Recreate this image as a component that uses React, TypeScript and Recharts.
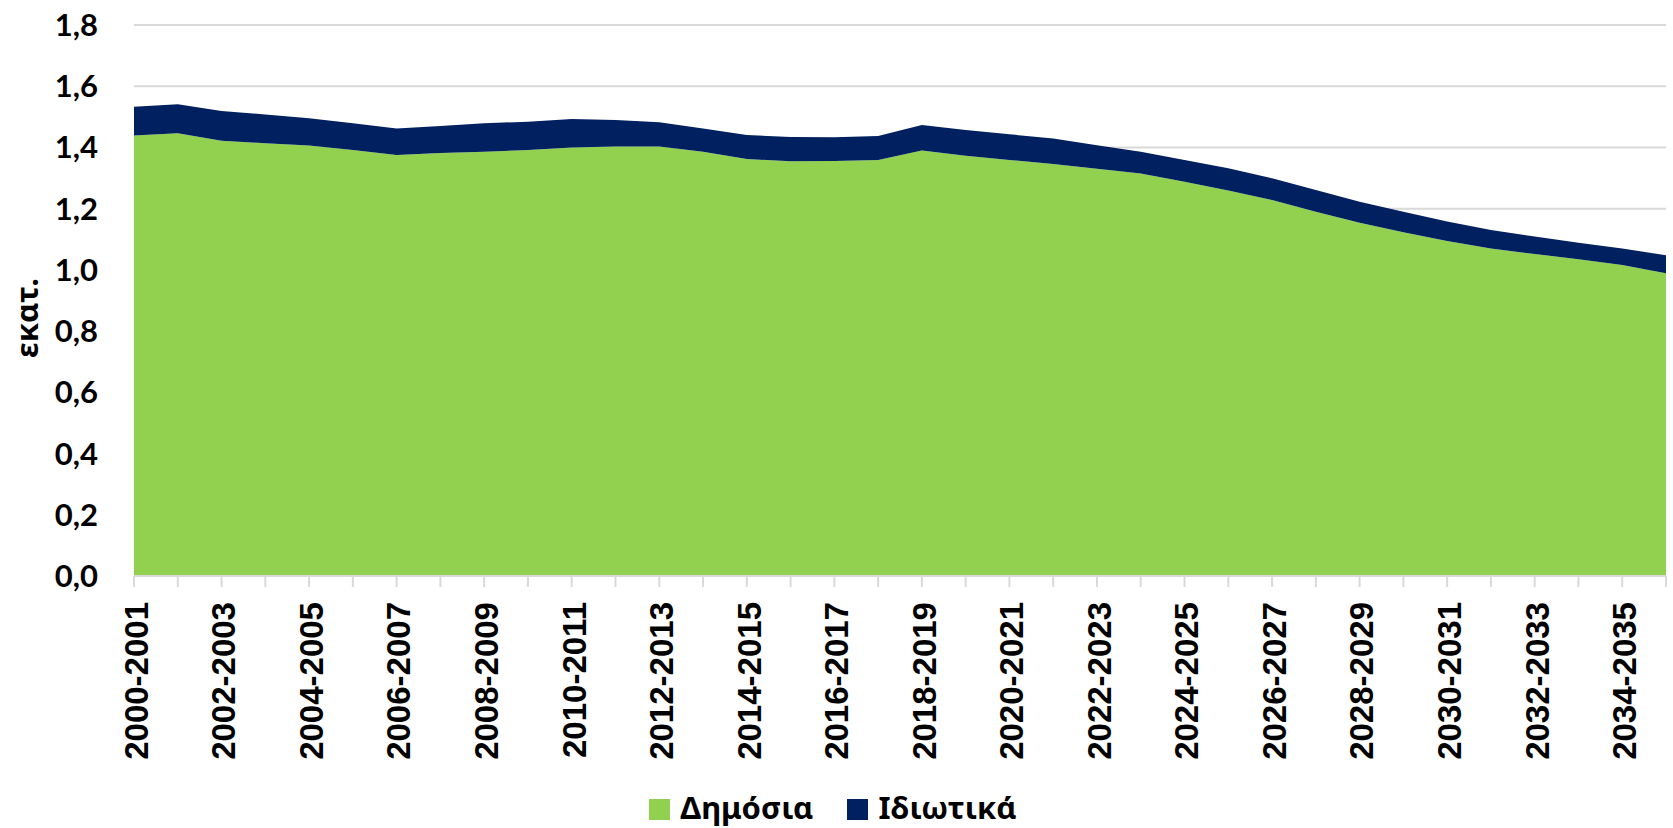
import React from 'react';
import { AreaChart, Area, XAxis, YAxis, CartesianGrid, Legend } from 'recharts';

const categories: string[] = [
  '2000-2001', '2001-2002', '2002-2003', '2003-2004', '2004-2005', '2005-2006',
  '2006-2007', '2007-2008', '2008-2009', '2009-2010', '2010-2011', '2011-2012',
  '2012-2013', '2013-2014', '2014-2015', '2015-2016', '2016-2017', '2017-2018',
  '2018-2019', '2019-2020', '2020-2021', '2021-2022', '2022-2023', '2023-2024',
  '2024-2025', '2025-2026', '2026-2027', '2027-2028', '2028-2029', '2029-2030',
  '2030-2031', '2031-2032', '2032-2033', '2033-2034', '2034-2035', '2035-2036',
];

const publicValues: number[] = [
  1.439, 1.446, 1.422, 1.414, 1.406, 1.392, 1.375, 1.382, 1.386, 1.392,
  1.400, 1.403, 1.403, 1.386, 1.362, 1.355, 1.356, 1.359, 1.390, 1.373,
  1.359, 1.346, 1.330, 1.315, 1.288, 1.259, 1.228, 1.190, 1.154, 1.123,
  1.094, 1.070, 1.052, 1.035, 1.016, 0.989,
];

const privateValues: number[] = [
  0.094, 0.095, 0.097, 0.094, 0.089, 0.087, 0.087, 0.088, 0.093, 0.092,
  0.093, 0.087, 0.079, 0.076, 0.079, 0.079, 0.077, 0.078, 0.083, 0.084,
  0.084, 0.083, 0.077, 0.071, 0.071, 0.073, 0.071, 0.071, 0.069, 0.067,
  0.064, 0.060, 0.057, 0.054, 0.054, 0.059,
];

const yTicks: number[] = [0, 0.2, 0.4, 0.6, 0.8, 1.0, 1.2, 1.4, 1.6, 1.8];

const publicName = 'Δημόσια';
const privateName = 'Ιδιωτικά';
const yTitle = 'εκατ.';

const GREEN = '#92D050';
const NAVY = '#002060';
const GRID = '#D9D9D9';

const data = categories.map((period, i) => ({
  period,
  publicV: publicValues[i],
  privateV: privateValues[i],
}));

const XTick = (props: any) => {
  const { x, y, payload } = props;
  const idx = categories.indexOf(payload.value);
  if (idx % 2 !== 0) return <g />;
  return (
    <text
      x={x}
      y={y}
      transform={`rotate(-90, ${x}, ${y})`}
      textAnchor="end"
      dy="0.42em"
      fill="#000"
      fontSize={33}
      fontWeight={700}
      fontFamily="'Liberation Sans', Arial, sans-serif"
    >
      {payload.value}
    </text>
  );
};

const LegendContent = () => {
  const item = (color: string, label: string, gap: number) => (
    <div style={{ display: 'flex', alignItems: 'center', marginRight: gap }}>
      <div style={{ width: 21, height: 21, background: color, marginRight: 10, marginTop: 4 }} />
      <span
        style={{
          fontFamily: "'Noto Sans', sans-serif",
          fontWeight: 700,
          fontSize: 31,
          lineHeight: 'normal',
          color: '#000',
          whiteSpace: 'nowrap',
        }}
      >
        {label}
      </span>
    </div>
  );
  return (
    <div
      style={{
        height: 52,
        boxSizing: 'border-box',
        paddingTop: 10,
        display: 'flex',
        justifyContent: 'center',
        alignItems: 'flex-start',
      }}
    >
      {item(GREEN, publicName, 34)}
      {item(NAVY, privateName, 0)}
    </div>
  );
};

export default function App() {
  return (
    <div style={{ position: 'absolute', left: 0, top: 0, width: 1673, height: 828, background: '#fff' }}>
      <AreaChart
        width={1673}
        height={828}
        data={data}
        margin={{ top: 25, right: 7, bottom: 0, left: 0 }}
      >
        <CartesianGrid vertical={false} stroke={GRID} strokeWidth={2} />
        <XAxis
          dataKey="period"
          interval={0}
          tick={<XTick />}
          tickSize={11}
          tickMargin={15}
          height={200}
          axisLine={{ stroke: GRID, strokeWidth: 2 }}
          tickLine={{ stroke: GRID, strokeWidth: 2 }}
        />
        <YAxis
          domain={[0, 1.8]}
          ticks={yTicks}
          width={134}
          axisLine={false}
          tickLine={false}
          tickMargin={30}
          tickFormatter={(v: number) => v.toFixed(1).replace('.', ',')}
          tick={{ fill: '#000', fontSize: 31, fontWeight: 700, fontFamily: "Lato, 'Noto Sans', sans-serif" }}
        />
        <Legend verticalAlign="bottom" content={<LegendContent />} />
        <Area
          type="linear"
          dataKey="publicV"
          name={publicName}
          stackId="a"
          stroke="none"
          fill={GREEN}
          fillOpacity={1}
          isAnimationActive={false}
        />
        <Area
          type="linear"
          dataKey="privateV"
          name={privateName}
          stackId="a"
          stroke="none"
          fill={NAVY}
          fillOpacity={1}
          isAnimationActive={false}
        />
      </AreaChart>
      <svg
        width={60}
        height={200}
        style={{ position: 'absolute', left: 0, top: 218, pointerEvents: 'none' }}
      >
        <text
          x={26}
          y={100}
          transform="rotate(-90, 26, 100)"
          textAnchor="middle"
          dominantBaseline="central"
          fill="#000"
          fontSize={31}
          fontWeight={700}
          fontFamily="'Noto Sans', sans-serif"
        >
          {yTitle}
        </text>
      </svg>
    </div>
  );
}
